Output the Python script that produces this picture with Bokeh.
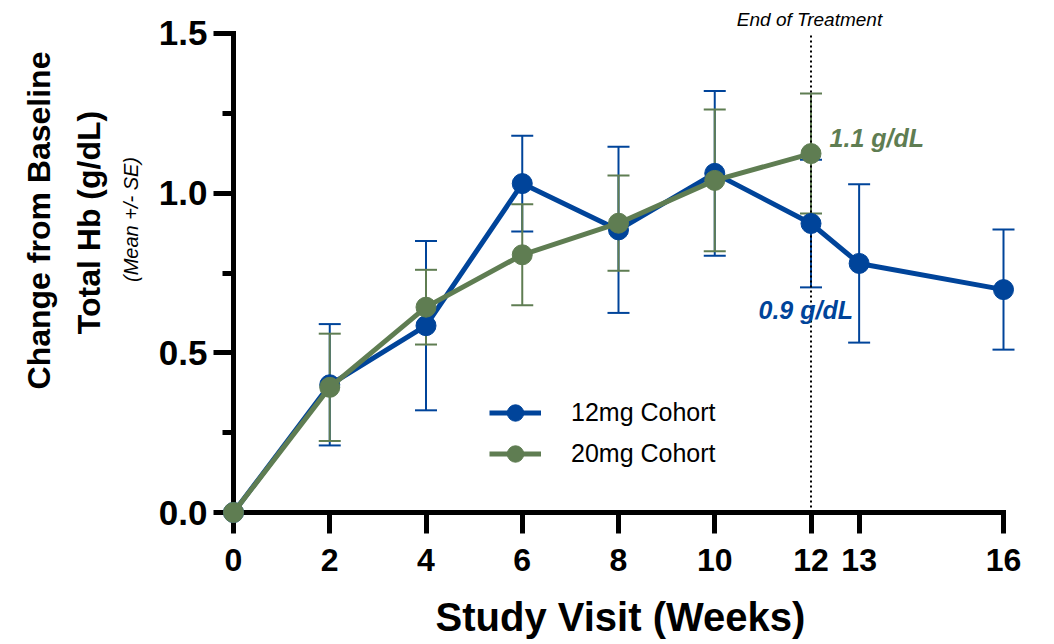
import numpy as np
from bokeh.plotting import figure
from bokeh.models import (ColumnDataSource, Whisker, TeeHead, FixedTicker,
                          Range1d, Label, Legend, LegendItem)
from bokeh.embed import file_html
from bokeh.resources import INLINE

# ---------------- data ----------------
weeks_12 = [0, 2, 4, 6, 8, 10, 12, 13, 16]
mean_12 = [0.0, 0.40, 0.585, 1.03, 0.885, 1.062, 0.905, 0.780, 0.698]
se_12 = [0.0, 0.19, 0.265, 0.15, 0.26, 0.258, 0.200, 0.248, 0.188]

weeks_20 = [0, 2, 4, 6, 8, 10, 12]
mean_20 = [0.0, 0.392, 0.643, 0.807, 0.906, 1.040, 1.124]
se_20 = [0.0, 0.168, 0.117, 0.158, 0.149, 0.222, 0.188]

x_ticks = [0, 2, 4, 6, 8, 10, 12, 13, 16]
y_ticks = [0.0, 0.5, 1.0, 1.5]
y_tick_labels = ["0.0", "0.5", "1.0", "1.5"]
y_minor_ticks = [0.25, 0.75, 1.25]
end_of_treatment_week = 12

series_names = ["12mg Cohort", "20mg Cohort"]
end_label_12 = "0.9 g/dL"
end_label_20 = "1.1 g/dL"

BLUE = "#00449A"
GREEN = "#5F7D52"
FONT = "Liberation Sans"

# ---------------- figure ----------------
p = figure(width=1054, height=644, output_backend="svg", toolbar_location=None,
           title=None,
           x_range=Range1d(-4.8416, 17.0597), y_range=Range1d(-0.41336, 1.60334),
           min_border_left=0, min_border_right=0, min_border_top=0,
           min_border_bottom=0)
p.outline_line_color = None
p.xgrid.visible = False
p.ygrid.visible = False
p.background_fill_color = "white"
p.border_fill_color = "white"

# axes
xa = p.xaxis[0]
xa.fixed_location = 0
xa.bounds = (0, 16)
xa.ticker = FixedTicker(ticks=x_ticks, minor_ticks=[])
xa.axis_line_width = 5
xa.axis_line_cap = "square"
xa.major_tick_line_width = 5
xa.major_tick_out = 21
xa.major_tick_in = 0
xa.minor_tick_line_color = None
xa.major_label_text_font = FONT
xa.major_label_text_font_style = "bold"
xa.major_label_text_font_size = "32px"
xa.major_label_text_color = "black"
xa.major_label_standoff = 15

ya = p.yaxis[0]
ya.fixed_location = 0
ya.bounds = (0, 1.5)
ya.ticker = FixedTicker(ticks=y_ticks, minor_ticks=y_minor_ticks)
ya.major_label_overrides = {t: l for t, l in zip(y_ticks, y_tick_labels)}
ya.axis_line_width = 5
ya.axis_line_cap = "square"
ya.major_tick_line_width = 5
ya.major_tick_out = 20
ya.major_tick_in = 0
ya.minor_tick_line_width = 5
ya.minor_tick_out = 11
ya.minor_tick_in = 0
ya.major_label_text_font = FONT
ya.major_label_text_font_style = "bold"
ya.major_label_text_font_size = "35px"
ya.major_label_text_color = "black"
ya.major_label_standoff = 6

# end of treatment dotted line
p.segment(x0=[end_of_treatment_week], y0=[y_ticks[0]], x1=[end_of_treatment_week],
          y1=[y_ticks[-1]], line_color="black", line_width=2, line_dash="2 3")

# error bars
src12 = ColumnDataSource(dict(x=weeks_12, y=mean_12,
                              upper=np.array(mean_12) + np.array(se_12),
                              lower=np.array(mean_12) - np.array(se_12)))
src20 = ColumnDataSource(dict(x=weeks_20, y=mean_20,
                              upper=np.array(mean_20) + np.array(se_20),
                              lower=np.array(mean_20) - np.array(se_20)))

for src, col in ((src12, BLUE), (src20, GREEN)):
    w = Whisker(source=src, base="x", upper="upper", lower="lower",
                line_color=col, line_width=2, level="underlay",
                upper_head=TeeHead(size=22, line_color=col, line_width=2),
                lower_head=TeeHead(size=22, line_color=col, line_width=2))
    p.add_layout(w)

# lines + markers
l12 = p.line("x", "y", source=src12, line_color=BLUE, line_width=5, level="overlay")
s12 = p.scatter("x", "y", source=src12, size=20, fill_color=BLUE, line_color=BLUE,
                level="overlay")
l20 = p.line("x", "y", source=src20, line_color=GREEN, line_width=5, level="overlay")
s20 = p.scatter("x", "y", source=src20, size=20, fill_color=GREEN, line_color=GREEN,
                level="overlay")

legend = Legend(items=[LegendItem(label=series_names[0], renderers=[l12, s12]),
                       LegendItem(label=series_names[1], renderers=[l20, s20])],
                location=(489, 170.5), glyph_width=52, glyph_height=41,
                label_standoff=30, spacing=0, padding=0, margin=0,
                border_line_alpha=0, background_fill_alpha=0,
                label_text_font=FONT, label_text_font_size="25px",
                label_text_color="black", label_text_baseline="middle")
p.add_layout(legend)

# texts
def lab(x, y, text, size, style, color="black", align="center", angle=0.0):
    p.add_layout(Label(x=x, y=y, text=text, text_font=FONT, text_font_size=size,
                       text_font_style=style, text_color=color, text_align=align,
                       text_baseline="middle", angle=angle))

lab(8.04, -0.3288, "Study Visit (Weeks)", "40px", "bold")
lab(-4.042, 0.9144, "Change from Baseline", "32px", "bold", angle=np.pi / 2)
lab(-3.003, 0.9081, "Total Hb (g/dL)", "32px", "bold", angle=np.pi / 2)
lab(-2.140, 0.9175, "(Mean +/- SE)", "20px", "italic", angle=np.pi / 2)
lab(11.969, 1.5438, "End of Treatment", "19px", "italic")
lab(12.385, 1.1712, end_label_20, "25px", "bold italic", color=GREEN, align="left")
lab(10.909, 0.6326, end_label_12, "25px", "bold italic", color=BLUE, align="left")

open("out.html", "w").write(file_html(p, INLINE))
